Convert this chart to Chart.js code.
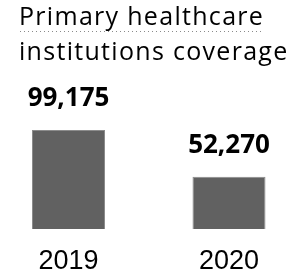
<!DOCTYPE html>
<html>
<head>
<meta charset="utf-8">
<script src="https://cdn.jsdelivr.net/npm/chart.js@4"></script>
<style>
  html, body { margin: 0; padding: 0; background: #fff; }
  #wrap { width: 300px; height: 275px; }
</style>
</head>
<body>
<div id="wrap"><canvas id="chart"></canvas></div>
<script>
// chart data
const years = ['2019', '2020'];
const institutions = [99175, 52270];
const titleLines = ['Primary healthcare', 'institutions coverage'];

const TITLE_SPACING = '1.3px';

// title is drawn a bit wider (letter spacing), reset before the bars/labels
const titleSpacing = {
    id: 'titleSpacing',
    beforeDraw(chart) { chart.ctx.letterSpacing = TITLE_SPACING; },
    beforeDatasetsDraw(chart) { chart.ctx.letterSpacing = '0px'; }
};

// bold value labels above each bar + dotted underline under the first title line
const valueLabels = {
    id: 'valueLabels',
    afterDatasetsDraw(chart) {
        const ctx = chart.ctx;
        const meta = chart.getDatasetMeta(0);
        ctx.save();
        ctx.font = 'bold 26px "Open Sans"';
        ctx.fillStyle = '#000';
        ctx.textAlign = 'center';
        ctx.textBaseline = 'alphabetic';
        meta.data.forEach((bar, i) => {
            ctx.fillText(institutions[i].toLocaleString('en-US'), bar.x, bar.y - 24);
        });
        ctx.restore();
    },
    afterDraw(chart) {
        const ctx = chart.ctx;
        const tb = chart.titleBlock;
        ctx.save();
        ctx.letterSpacing = TITLE_SPACING;
        ctx.font = '25px "Open Sans"';
        const w = ctx.measureText(titleLines[0]).width;
        ctx.letterSpacing = '0px';
        ctx.strokeStyle = '#8a8a8a';
        ctx.lineWidth = 1;
        ctx.setLineDash([1, 3]);
        ctx.beginPath();
        ctx.moveTo(tb.left + 1, tb.top + 31.5);
        ctx.lineTo(tb.left + w - 2, tb.top + 31.5);
        ctx.stroke();
        ctx.restore();
    }
};

new Chart(document.getElementById('chart'), {
    type: 'bar',
    data: {
        labels: years,
        datasets: [{
            data: institutions,
            backgroundColor: '#616161',
            borderColor: '#8c8c8c',
            borderWidth: 1,
            barPercentage: 0.455,
            categoryPercentage: 1,
            clip: false
        }]
    },
    options: {
        responsive: true,
        maintainAspectRatio: false,
        animation: false,
        layout: { padding: { left: 19, right: 0, top: 0, bottom: 0 } },
        plugins: {
            legend: { display: false },
            tooltip: { enabled: false },
            title: {
                display: true,
                text: titleLines,
                align: 'start',
                color: '#000',
                font: { family: 'Open Sans', size: 25, weight: 'normal', lineHeight: 1.4 },
                padding: { top: 0, bottom: 9.3 }
            }
        },
        scales: {
            x: {
                offset: false,
                grid: { display: false, drawTicks: false, tickLength: 0 },
                border: { display: false },
                ticks: {
                    z: 1,
                    color: '#000',
                    padding: 19.5,
                    font: { family: 'Liberation Sans', size: 27, lineHeight: 1 }
                },
                afterFit: (s) => { s.height = 46; }
            },
            y: {
                min: 0,
                max: 150000,
                grid: { display: false },
                border: { display: false },
                ticks: { display: false },
                afterFit: (s) => { s.width = 49.5; }
            },
            yRight: {
                position: 'right',
                grid: { display: false },
                border: { display: false },
                ticks: { display: false },
                afterFit: (s) => { s.width = 71; }
            }
        }
    },
    plugins: [titleSpacing, valueLabels]
});
</script>
</body>
</html>
